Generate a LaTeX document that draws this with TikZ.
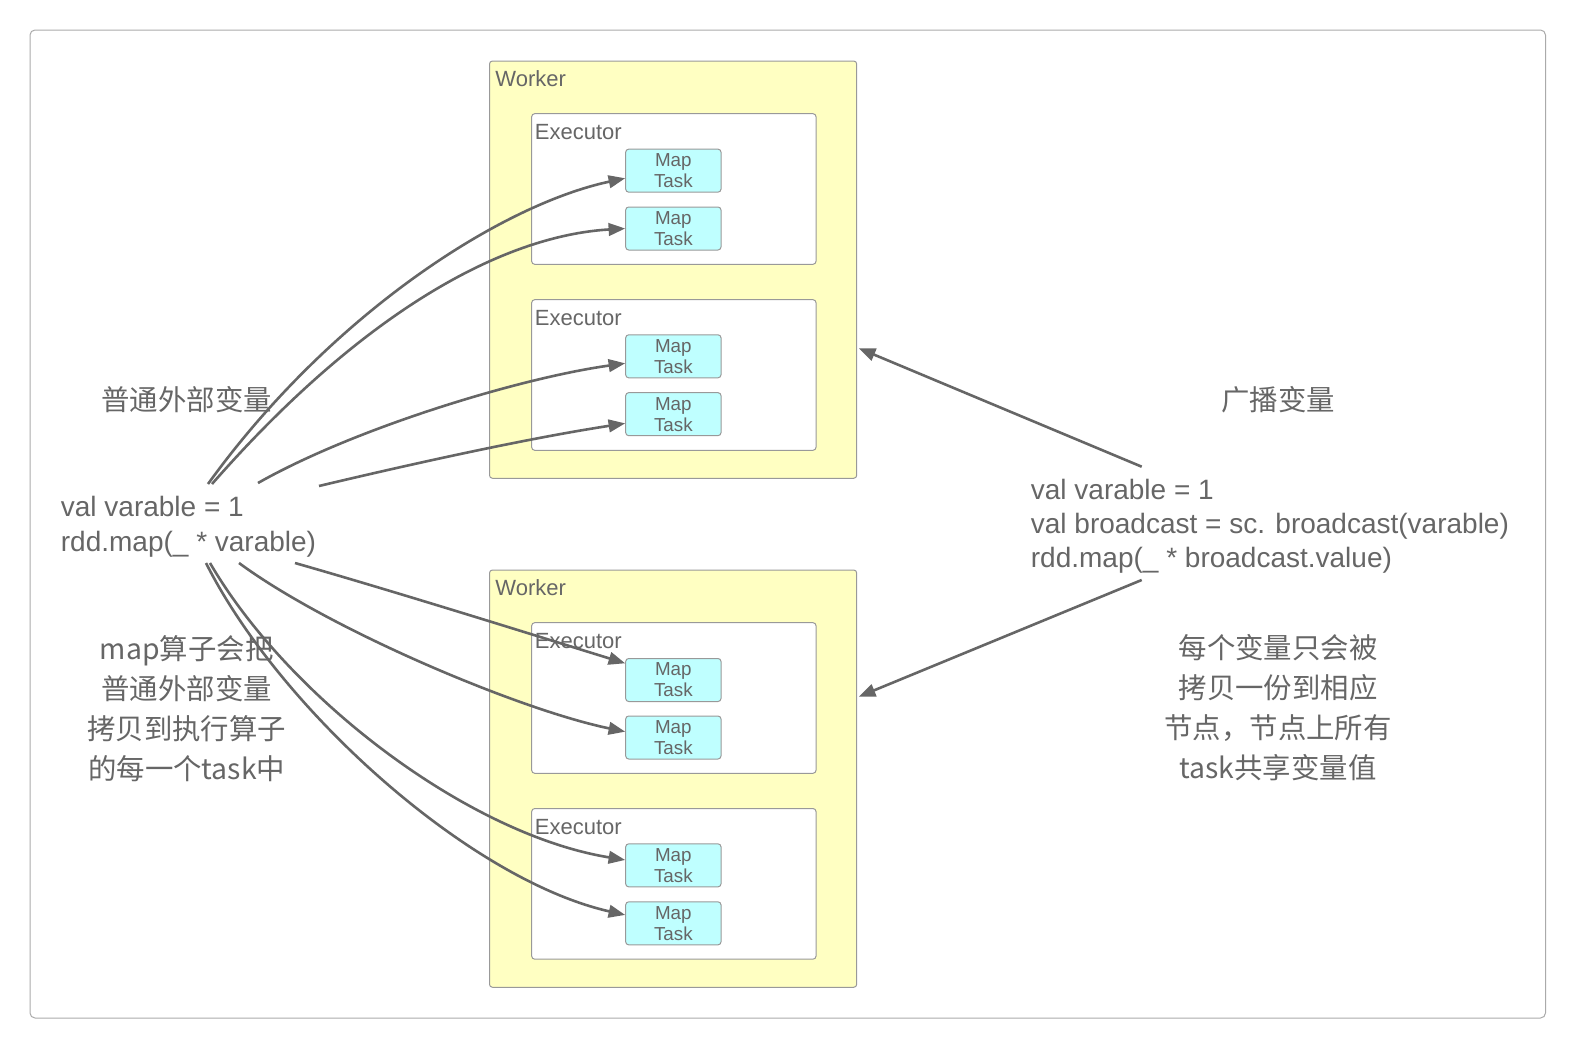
\documentclass[tikz,border=0pt]{standalone}
\usepackage{fontspec}
\setmainfont{Liberation Sans}
\newfontfamily\cjk{Noto Sans CJK SC}
\usetikzlibrary{arrows.meta}
\definecolor{txt}{HTML}{666666}
\definecolor{ln}{HTML}{666666}
\definecolor{wfill}{HTML}{FFFFC2}
\definecolor{tfill}{HTML}{BFFFFF}
\definecolor{bord}{HTML}{999999}
\definecolor{frame}{HTML}{AAAAAA}
\begin{document}
\begin{tikzpicture}[x=0.5pt,y=-0.5pt,
 workerbox/.style={draw=bord, fill=wfill, rounded corners=1.5pt, minimum width=183.6pt, minimum height=208.65pt, inner sep=0pt, line width=0.5pt},
 execbox/.style={draw=bord, fill=white, rounded corners=1.5pt, minimum width=142.15pt, minimum height=75.3pt, inner sep=0pt, line width=0.5pt},
 taskbox/.style={draw=bord, fill=tfill, rounded corners=1.5pt, minimum width=47.65pt, minimum height=21.5pt, inner sep=0pt, line width=0.5pt, align=center, text=txt, font=\fontsize{9.4pt}{10.5pt}\selectfont},
 lab/.style={anchor=base west, inner sep=0pt, text=txt, font=\fontsize{11pt}{13pt}\selectfont},
 code/.style={anchor=base west, inner sep=0pt, text=txt, font=\fontsize{14pt}{17.5pt}\selectfont},
 note/.style={align=center, inner sep=0pt, text=txt, font=\cjk\fontsize{14.2pt}{20pt}\selectfont},
 conn/.style={draw=ln, line width=1.3pt, -{Triangle[length=8.3pt,width=6.3pt]}},
]
\useasboundingbox (0,0) rectangle (1576,1049);
\draw[draw=frame, line width=0.5pt, rounded corners=2.5pt] (30,30) rectangle (1545.5,1018);

% Workers
\node[workerbox] (w1) at (673.1,269.65) {};
\node[workerbox] (w2) at (673.1,778.65) {};
\node[lab] (w1lab) at (495,86.7) {Worker};
\node[lab] (w2lab) at (495,595.9) {Worker};

% Executors
\node[execbox] (e1) at (673.85,189) {};
\node[execbox] (e2) at (673.85,375) {};
\node[execbox] (e3) at (673.85,698) {};
\node[execbox] (e4) at (673.85,883.85) {};
\node[lab] (e1lab) at (534.5,139.3) {Executor};
\node[lab] (e2lab) at (534.5,325.6) {Executor};
\node[lab] (e3lab) at (534.5,648.5) {Executor};
\node[lab] (e4lab) at (534.5,834.3) {Executor};

% Map tasks
\node[taskbox] (t1) at (673.35,170.65) {Map\\Task};
\node[taskbox] (t2) at (673.35,228.5) {Map\\Task};
\node[taskbox] (t3) at (673.35,356.3) {Map\\Task};
\node[taskbox] (t4) at (673.35,414.15) {Map\\Task};
\node[taskbox] (t5) at (673.35,680) {Map\\Task};
\node[taskbox] (t6) at (673.35,737.5) {Map\\Task};
\node[taskbox] (t7) at (673.35,865.35) {Map\\Task};
\node[taskbox] (t8) at (673.35,923.35) {Map\\Task};

% Code texts
\node[code] (lc1) at (60.5,516.7) {val varable = 1};
\node[code] (lc2) at (60.5,551.7) {rdd.map(\_ * varable)};
\node[code] (rc1) at (1030.5,499) {val varable = 1};
\node[code] (rc2) at (1030.5,533.3) {val broadcast = sc. broadcast(varable)};
\node[code] (rc3) at (1030.5,567.6) {rdd.map(\_ * broadcast.value)};

% Notes
\node[note] (n1) at (186.7,400) {普通外部变量};
\node[note] (n2) at (1278,400) {广播变量};
\node[note] (n3) at (186.7,709) {map算子会把\\普通外部变量\\拷贝到执行算子\\的每一个task中};
\node[note] (n4) at (1278,707.5) {每个变量只会被\\拷贝一份到相应\\节点，节点上所有\\task共享变量值};

% Arrow start points
\coordinate (s1) at (208,484);
\coordinate (s2) at (212,484);
\coordinate (s3) at (258,483);
\coordinate (s4) at (319,486);
\coordinate (s5) at (295,563);
\coordinate (s6) at (239,563);
\coordinate (s7) at (210,563);
\coordinate (s8) at (206,563);
\coordinate (r1) at (1141.7,466.7);
\coordinate (r2) at (1141.7,580);

% Connectors
\draw[conn] (s1) .. controls (330,315) and (500,205) .. ([yshift=-3.8pt]t1.west);
\draw[conn] (s2) .. controls (360,315) and (500,236) .. (t2.west);
\draw[conn] (s3) .. controls (355,428) and (520,378) .. ([yshift=-3.5pt]t3.west);
\draw[conn] (s4) .. controls (420,462) and (530,438) .. ([yshift=-4.6pt]t4.west);
\draw[conn] (s5) .. controls (400,593) and (540,637) .. ([yshift=8.35pt]t5.west);
\draw[conn] (s6) .. controls (330,630) and (520,710) .. ([yshift=2.9pt]t6.west);
\draw[conn] (s7) .. controls (290,700) and (470,835) .. ([yshift=2.7pt]t7.west);
\draw[conn] (s8) .. controls (280,710) and (470,880) .. ([yshift=4.2pt]t8.west);
\draw[conn] (r1) -- ([xshift=0.8pt,yshift=-39.3pt]w1.east);
\draw[conn] (r2) -- ([xshift=0.8pt,yshift=41pt]w2.east);
\end{tikzpicture}
\end{document}
